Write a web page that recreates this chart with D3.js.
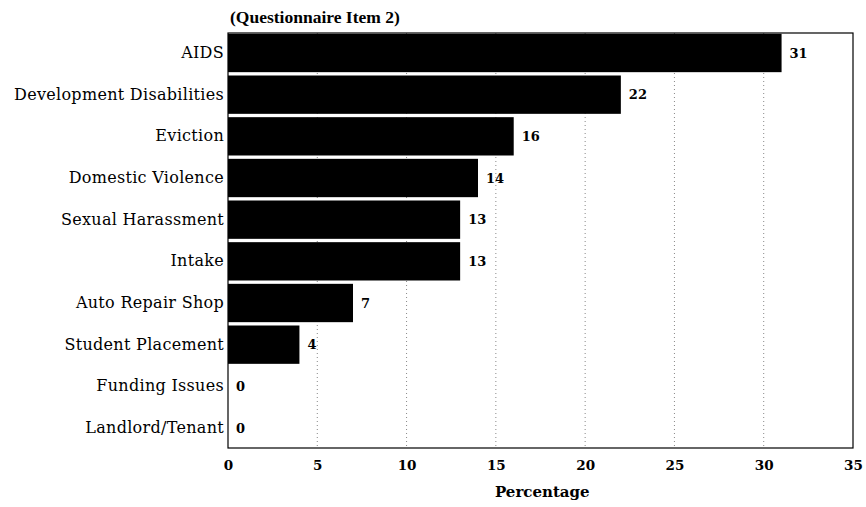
<!DOCTYPE html>
<html>
<head>
<meta charset="utf-8">
<script src="https://cdn.jsdelivr.net/npm/d3@7"></script>
<style>
  body { margin: 0; background: #fff; }
  text { font-family: "DejaVu Serif", "Liberation Serif", serif; }
</style>
</head>
<body>
<div id="chart"></div>
<script>
var categories = ["AIDS", "Development Disabilities", "Eviction", "Domestic Violence",
  "Sexual Harassment", "Intake", "Auto Repair Shop", "Student Placement",
  "Funding Issues", "Landlord/Tenant"];
var values = [31, 22, 16, 14, 13, 13, 7, 4, 0, 0];
var xTicks = [0, 5, 10, 15, 20, 25, 30, 35];

var width = 866, height = 507;
var margin = {top: 33, right: 13, bottom: 59, left: 228};
var w = width - margin.left - margin.right;
var h = height - margin.top - margin.bottom;

var svg = d3.select("#chart")
  .append("svg")
  .attr("width", width)
  .attr("height", height)
  .append("g")
  .attr("transform", "translate(" + margin.left + "," + margin.top + ")");

var x = d3.scaleLinear().domain([0, 35]).range([0, w]);
var y = d3.scaleBand().domain(categories).range([0, h]).paddingInner(0.08).paddingOuter(0.02);

// dotted grid lines
svg.selectAll(".grid")
  .data(xTicks.slice(1, -1))
  .enter()
  .append("line")
  .attr("x1", function (d) { return x(d); })
  .attr("x2", function (d) { return x(d); })
  .attr("y1", 0)
  .attr("y2", h)
  .attr("stroke", "#888")
  .attr("stroke-width", 1)
  .attr("stroke-dasharray", "1,3");

// frame
svg.append("rect")
  .attr("x", 0).attr("y", 0)
  .attr("width", w).attr("height", h)
  .attr("fill", "none")
  .attr("stroke", "#000")
  .attr("stroke-width", 1.2);

svg.selectAll(".bar")
  .data(values)
  .enter()
  .append("rect")
  .attr("x", 0)
  .attr("y", function (d, i) { return y(categories[i]); })
  .attr("width", function (d) { return x(d); })
  .attr("height", y.bandwidth())
  .attr("fill", "#000");

svg.selectAll(".val")
  .data(values)
  .enter()
  .append("text")
  .attr("x", function (d) { return x(d) + 8; })
  .attr("y", function (d, i) { return y(categories[i]) + y.bandwidth() / 2; })
  .attr("dy", "0.35em")
  .style("font-size", "13px")
  .style("font-weight", "bold")
  .text(function (d) { return d; });

var yAxis = d3.axisLeft(y).tickSize(0).tickPadding(4);
svg.append("g")
  .call(yAxis)
  .call(function (g) { g.select(".domain").remove(); })
  .selectAll("text")
  .style("font-family", "'DejaVu Serif', serif")
  .style("font-size", "16px")
  .style("letter-spacing", "0.3px")
  .attr("fill", "#000");

var xAxis = d3.axisBottom(x).tickValues(xTicks).tickSize(0).tickPadding(12);
svg.append("g")
  .attr("transform", "translate(0," + h + ")")
  .call(xAxis)
  .call(function (g) { g.select(".domain").remove(); })
  .selectAll("text")
  .style("font-family", "'DejaVu Serif', serif")
  .style("font-size", "13.5px")
  .style("font-weight", "bold")
  .attr("fill", "#000");

svg.append("text")
  .attr("x", 2)
  .attr("y", -10)
  .style("font-family", "'Liberation Serif', serif")
  .style("font-size", "17.5px")
  .style("font-weight", "bold")
  .text("(Questionnaire Item 2)");

svg.append("text")
  .attr("x", x(17.6))
  .attr("y", h + 49)
  .attr("text-anchor", "middle")
  .style("font-size", "15px")
  .style("font-weight", "bold")
  .text("Percentage");
</script>
</body>
</html>
